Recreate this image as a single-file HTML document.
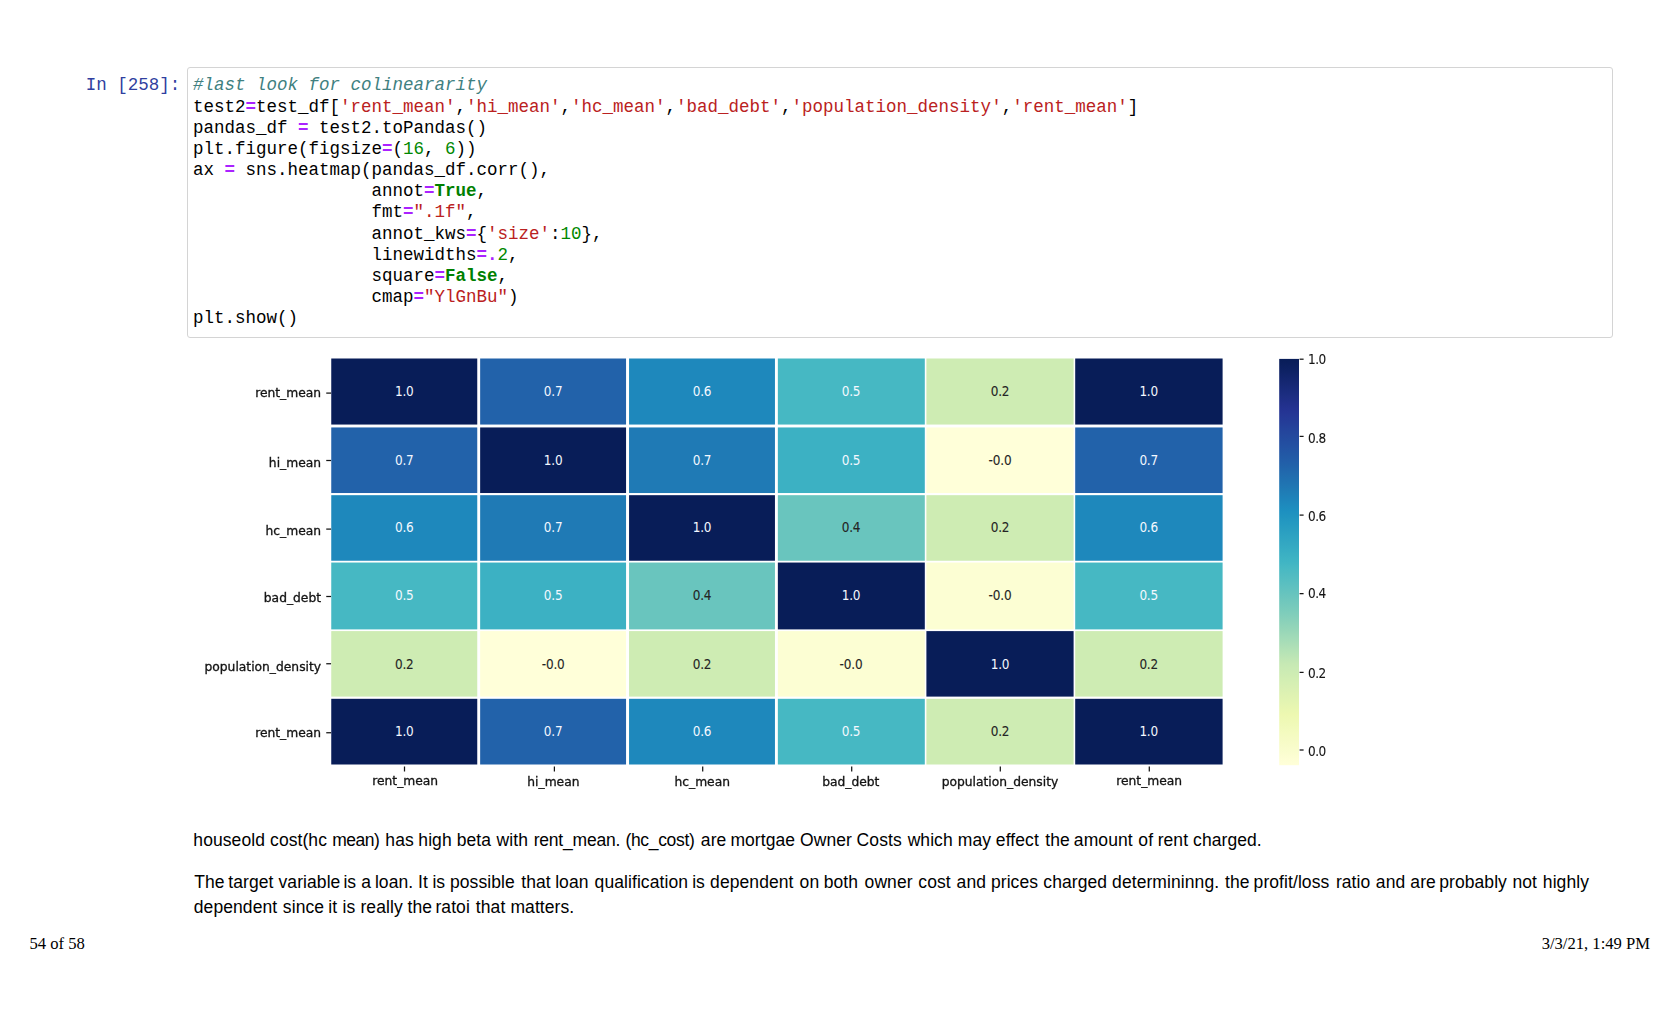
<!DOCTYPE html>
<html lang="en"><head><meta charset="utf-8"><title>notebook</title>
<style>
html,body{margin:0;padding:0;background:#fff;}
body{width:1680px;height:1020px;position:relative;overflow:hidden;font-family:"Liberation Sans",Arial,sans-serif;color:#000;}
.prompt{position:absolute;left:60px;top:75.35px;width:120.25px;text-align:right;font-family:"Liberation Mono",monospace;font-size:17.5px;line-height:21.18px;color:#303F9F;white-space:pre;}
.inbox{position:absolute;left:186.6px;top:67.1px;width:1426.5px;height:271px;border:1.25px solid #d4d4d4;border-radius:3px;box-sizing:border-box;background:#fff;}
pre.code{position:absolute;left:192.9px;top:75.35px;margin:0;font-family:"Liberation Mono",monospace;font-size:17.5px;line-height:21.18px;color:#000;white-space:pre;}
.c{color:#408080;font-style:italic;}
.o{color:#AA22FF;font-weight:bold;}
.s{color:#BA2121;}
.n{color:#008800;}
.k{color:#008000;font-weight:bold;}
.md{position:absolute;left:0;width:1680px;height:25px;white-space:pre;letter-spacing:0.08px;font-size:17.5px;line-height:25px;color:#000;margin:0;}
.w{position:absolute;top:0;left:0;}
.foot{position:absolute;top:934px;font-family:"Liberation Serif",serif;font-size:16.6px;line-height:20px;color:#000;white-space:pre;}
</style></head><body>
<div class="prompt">In [258]:</div>
<div class="inbox"></div>
<pre class="code"><span class="c">#last look for colineararity</span>
test2<span class="o">=</span>test_df[<span class="s">'rent_mean'</span>,<span class="s">'hi_mean'</span>,<span class="s">'hc_mean'</span>,<span class="s">'bad_debt'</span>,<span class="s">'population_density'</span>,<span class="s">'rent_mean'</span>]
pandas_df <span class="o">=</span> test2.toPandas()
plt.figure(figsize<span class="o">=</span>(<span class="n">16</span>, <span class="n">6</span>))
ax <span class="o">=</span> sns.heatmap(pandas_df.corr(),
                 annot<span class="o">=</span><span class="k">True</span>,
                 fmt<span class="o">=</span><span class="s">".1f"</span>,
                 annot_kws<span class="o">=</span>{<span class="s">'size'</span>:<span class="n">10</span>},
                 linewidths<span class="o">=.</span><span class="n">2</span>,
                 square<span class="o">=</span><span class="k">False</span>,
                 cmap<span class="o">=</span><span class="s">"YlGnBu"</span>)
plt.show()</pre>
<svg width="1180" height="460" viewBox="180 345 1180 460" style="position:absolute;left:180px;top:345px;font-family:'DejaVu Sans',sans-serif;font-size:12.3px;filter:blur(0.4px)">
<rect x="329.85" y="357.30" width="893.10" height="408.40" fill="#fff"/>
<rect x="331.25" y="358.50" width="146.00" height="66.05" fill="#081d58"/>
<rect x="480.15" y="358.50" width="145.90" height="66.05" fill="#2262aa"/>
<rect x="629.05" y="358.50" width="145.90" height="66.05" fill="#1e88bc"/>
<rect x="777.85" y="358.50" width="146.95" height="66.05" fill="#46b8c3"/>
<rect x="926.40" y="358.50" width="147.20" height="66.05" fill="#ceecb3"/>
<rect x="1075.20" y="358.50" width="147.40" height="66.05" fill="#081d58"/>
<rect x="331.25" y="427.45" width="146.00" height="65.58" fill="#2262aa"/>
<rect x="480.15" y="427.45" width="145.90" height="65.58" fill="#081d58"/>
<rect x="629.05" y="427.45" width="145.90" height="65.58" fill="#1f7ab5"/>
<rect x="777.85" y="427.45" width="146.95" height="65.58" fill="#3cb1c3"/>
<rect x="926.40" y="427.45" width="147.20" height="65.58" fill="#ffffd9"/>
<rect x="1075.20" y="427.45" width="147.40" height="65.58" fill="#2262aa"/>
<rect x="331.25" y="495.18" width="146.00" height="65.57" fill="#1e88bc"/>
<rect x="480.15" y="495.18" width="145.90" height="65.57" fill="#1f7ab5"/>
<rect x="629.05" y="495.18" width="145.90" height="65.57" fill="#081d58"/>
<rect x="777.85" y="495.18" width="146.95" height="65.57" fill="#69c5be"/>
<rect x="926.40" y="495.18" width="147.20" height="65.57" fill="#ceecb3"/>
<rect x="1075.20" y="495.18" width="147.40" height="65.57" fill="#1e88bc"/>
<rect x="331.25" y="562.55" width="146.00" height="66.85" fill="#46b8c3"/>
<rect x="480.15" y="562.55" width="145.90" height="66.85" fill="#3cb1c3"/>
<rect x="629.05" y="562.55" width="145.90" height="66.85" fill="#69c5be"/>
<rect x="777.85" y="562.55" width="146.95" height="66.85" fill="#081d58"/>
<rect x="926.40" y="562.55" width="147.20" height="66.85" fill="#fcfed3"/>
<rect x="1075.20" y="562.55" width="147.40" height="66.85" fill="#46b8c3"/>
<rect x="331.25" y="631.10" width="146.00" height="65.50" fill="#ceecb3"/>
<rect x="480.15" y="631.10" width="145.90" height="65.50" fill="#ffffd9"/>
<rect x="629.05" y="631.10" width="145.90" height="65.50" fill="#ceecb3"/>
<rect x="777.85" y="631.10" width="146.95" height="65.50" fill="#fcfed3"/>
<rect x="926.40" y="631.10" width="147.20" height="65.50" fill="#081d58"/>
<rect x="1075.20" y="631.10" width="147.40" height="65.50" fill="#ceecb3"/>
<rect x="331.25" y="698.80" width="146.00" height="65.70" fill="#081d58"/>
<rect x="480.15" y="698.80" width="145.90" height="65.70" fill="#2262aa"/>
<rect x="629.05" y="698.80" width="145.90" height="65.70" fill="#1e88bc"/>
<rect x="777.85" y="698.80" width="146.95" height="65.70" fill="#46b8c3"/>
<rect x="926.40" y="698.80" width="147.20" height="65.70" fill="#ceecb3"/>
<rect x="1075.20" y="698.80" width="147.40" height="65.70" fill="#081d58"/>
<text transform="translate(404.27 395.85) scale(1 1.1)" text-anchor="middle" fill="#f4f8ff" letter-spacing="-0.2" font-size="12.1">1.0</text>
<text transform="translate(553.12 395.85) scale(1 1.1)" text-anchor="middle" fill="#f4f8ff" letter-spacing="-0.2" font-size="12.1">0.7</text>
<text transform="translate(701.97 395.85) scale(1 1.1)" text-anchor="middle" fill="#f4f8ff" letter-spacing="-0.2" font-size="12.1">0.6</text>
<text transform="translate(851.00 395.85) scale(1 1.1)" text-anchor="middle" fill="#f4f8ff" letter-spacing="-0.2" font-size="12.1">0.5</text>
<text transform="translate(1000.00 395.85) scale(1 1.1)" text-anchor="middle" fill="#242424" stroke="#242424" stroke-width="0.1" letter-spacing="-0.2" font-size="12.1">0.2</text>
<text transform="translate(1148.68 395.85) scale(1 1.1)" text-anchor="middle" fill="#f4f8ff" letter-spacing="-0.2" font-size="12.1">1.0</text>
<text transform="translate(404.27 464.75) scale(1 1.1)" text-anchor="middle" fill="#f4f8ff" letter-spacing="-0.2" font-size="12.1">0.7</text>
<text transform="translate(553.12 464.75) scale(1 1.1)" text-anchor="middle" fill="#f4f8ff" letter-spacing="-0.2" font-size="12.1">1.0</text>
<text transform="translate(701.97 464.75) scale(1 1.1)" text-anchor="middle" fill="#f4f8ff" letter-spacing="-0.2" font-size="12.1">0.7</text>
<text transform="translate(851.00 464.75) scale(1 1.1)" text-anchor="middle" fill="#f4f8ff" letter-spacing="-0.2" font-size="12.1">0.5</text>
<text transform="translate(1000.00 464.75) scale(1 1.1)" text-anchor="middle" fill="#242424" stroke="#242424" stroke-width="0.1" letter-spacing="-0.2" font-size="12.1">-0.0</text>
<text transform="translate(1148.68 464.75) scale(1 1.1)" text-anchor="middle" fill="#f4f8ff" letter-spacing="-0.2" font-size="12.1">0.7</text>
<text transform="translate(404.27 531.98) scale(1 1.1)" text-anchor="middle" fill="#f4f8ff" letter-spacing="-0.2" font-size="12.1">0.6</text>
<text transform="translate(553.12 531.98) scale(1 1.1)" text-anchor="middle" fill="#f4f8ff" letter-spacing="-0.2" font-size="12.1">0.7</text>
<text transform="translate(701.97 531.98) scale(1 1.1)" text-anchor="middle" fill="#f4f8ff" letter-spacing="-0.2" font-size="12.1">1.0</text>
<text transform="translate(851.00 531.98) scale(1 1.1)" text-anchor="middle" fill="#242424" stroke="#242424" stroke-width="0.1" letter-spacing="-0.2" font-size="12.1">0.4</text>
<text transform="translate(1000.00 531.98) scale(1 1.1)" text-anchor="middle" fill="#242424" stroke="#242424" stroke-width="0.1" letter-spacing="-0.2" font-size="12.1">0.2</text>
<text transform="translate(1148.68 531.98) scale(1 1.1)" text-anchor="middle" fill="#f4f8ff" letter-spacing="-0.2" font-size="12.1">0.6</text>
<text transform="translate(404.27 599.95) scale(1 1.1)" text-anchor="middle" fill="#f4f8ff" letter-spacing="-0.2" font-size="12.1">0.5</text>
<text transform="translate(553.12 599.95) scale(1 1.1)" text-anchor="middle" fill="#f4f8ff" letter-spacing="-0.2" font-size="12.1">0.5</text>
<text transform="translate(701.97 599.95) scale(1 1.1)" text-anchor="middle" fill="#242424" stroke="#242424" stroke-width="0.1" letter-spacing="-0.2" font-size="12.1">0.4</text>
<text transform="translate(851.00 599.95) scale(1 1.1)" text-anchor="middle" fill="#f4f8ff" letter-spacing="-0.2" font-size="12.1">1.0</text>
<text transform="translate(1000.00 599.95) scale(1 1.1)" text-anchor="middle" fill="#242424" stroke="#242424" stroke-width="0.1" letter-spacing="-0.2" font-size="12.1">-0.0</text>
<text transform="translate(1148.68 599.95) scale(1 1.1)" text-anchor="middle" fill="#f4f8ff" letter-spacing="-0.2" font-size="12.1">0.5</text>
<text transform="translate(404.27 668.62) scale(1 1.1)" text-anchor="middle" fill="#242424" stroke="#242424" stroke-width="0.1" letter-spacing="-0.2" font-size="12.1">0.2</text>
<text transform="translate(553.12 668.62) scale(1 1.1)" text-anchor="middle" fill="#242424" stroke="#242424" stroke-width="0.1" letter-spacing="-0.2" font-size="12.1">-0.0</text>
<text transform="translate(701.97 668.62) scale(1 1.1)" text-anchor="middle" fill="#242424" stroke="#242424" stroke-width="0.1" letter-spacing="-0.2" font-size="12.1">0.2</text>
<text transform="translate(851.00 668.62) scale(1 1.1)" text-anchor="middle" fill="#242424" stroke="#242424" stroke-width="0.1" letter-spacing="-0.2" font-size="12.1">-0.0</text>
<text transform="translate(1000.00 668.62) scale(1 1.1)" text-anchor="middle" fill="#f4f8ff" letter-spacing="-0.2" font-size="12.1">1.0</text>
<text transform="translate(1148.68 668.62) scale(1 1.1)" text-anchor="middle" fill="#242424" stroke="#242424" stroke-width="0.1" letter-spacing="-0.2" font-size="12.1">0.2</text>
<text transform="translate(404.27 736.25) scale(1 1.1)" text-anchor="middle" fill="#f4f8ff" letter-spacing="-0.2" font-size="12.1">1.0</text>
<text transform="translate(553.12 736.25) scale(1 1.1)" text-anchor="middle" fill="#f4f8ff" letter-spacing="-0.2" font-size="12.1">0.7</text>
<text transform="translate(701.97 736.25) scale(1 1.1)" text-anchor="middle" fill="#f4f8ff" letter-spacing="-0.2" font-size="12.1">0.6</text>
<text transform="translate(851.00 736.25) scale(1 1.1)" text-anchor="middle" fill="#f4f8ff" letter-spacing="-0.2" font-size="12.1">0.5</text>
<text transform="translate(1000.00 736.25) scale(1 1.1)" text-anchor="middle" fill="#242424" stroke="#242424" stroke-width="0.1" letter-spacing="-0.2" font-size="12.1">0.2</text>
<text transform="translate(1148.68 736.25) scale(1 1.1)" text-anchor="middle" fill="#f4f8ff" letter-spacing="-0.2" font-size="12.1">1.0</text>
<line x1="326.25" y1="393.10" x2="331.05" y2="393.10" stroke="#141414" stroke-width="1.25"/>
<text transform="translate(321.05 397.00) scale(1 1.04)" text-anchor="end" fill="#141414" stroke="#141414" stroke-width="0.32">rent_mean</text>
<line x1="326.25" y1="460.50" x2="331.05" y2="460.50" stroke="#141414" stroke-width="1.25"/>
<text transform="translate(321.05 466.90) scale(1 1.04)" text-anchor="end" fill="#141414" stroke="#141414" stroke-width="0.32">hi_mean</text>
<line x1="326.25" y1="529.10" x2="331.05" y2="529.10" stroke="#141414" stroke-width="1.25"/>
<text transform="translate(321.05 534.70) scale(1 1.04)" text-anchor="end" fill="#141414" stroke="#141414" stroke-width="0.32">hc_mean</text>
<line x1="326.25" y1="596.50" x2="331.05" y2="596.50" stroke="#141414" stroke-width="1.25"/>
<text transform="translate(321.05 601.60) scale(1 1.04)" text-anchor="end" fill="#141414" stroke="#141414" stroke-width="0.32">bad_debt</text>
<line x1="326.25" y1="663.75" x2="331.05" y2="663.75" stroke="#141414" stroke-width="1.25"/>
<text transform="translate(321.05 671.00) scale(1 1.04)" text-anchor="end" fill="#141414" stroke="#141414" stroke-width="0.32">population_density</text>
<line x1="326.25" y1="732.75" x2="331.05" y2="732.75" stroke="#141414" stroke-width="1.25"/>
<text transform="translate(321.05 736.90) scale(1 1.04)" text-anchor="end" fill="#141414" stroke="#141414" stroke-width="0.32">rent_mean</text>
<line x1="404.50" y1="766.50" x2="404.50" y2="771.50" stroke="#141414" stroke-width="1.25"/>
<text transform="translate(405.20 784.60) scale(1 1.04)" text-anchor="middle" fill="#141414" stroke="#141414" stroke-width="0.32">rent_mean</text>
<line x1="554.40" y1="766.50" x2="554.40" y2="771.50" stroke="#141414" stroke-width="1.25"/>
<text transform="translate(553.40 785.70) scale(1 1.04)" text-anchor="middle" fill="#141414" stroke="#141414" stroke-width="0.32">hi_mean</text>
<line x1="702.70" y1="766.50" x2="702.70" y2="771.50" stroke="#141414" stroke-width="1.25"/>
<text transform="translate(702.20 785.70) scale(1 1.04)" text-anchor="middle" fill="#141414" stroke="#141414" stroke-width="0.32">hc_mean</text>
<line x1="851.70" y1="766.50" x2="851.70" y2="771.50" stroke="#141414" stroke-width="1.25"/>
<text transform="translate(850.80 785.70) scale(1 1.04)" text-anchor="middle" fill="#141414" stroke="#141414" stroke-width="0.32">bad_debt</text>
<line x1="1000.30" y1="766.50" x2="1000.30" y2="771.50" stroke="#141414" stroke-width="1.25"/>
<text transform="translate(1000.00 785.70) scale(1 1.04)" text-anchor="middle" fill="#141414" stroke="#141414" stroke-width="0.32">population_density</text>
<line x1="1149.30" y1="766.50" x2="1149.30" y2="771.50" stroke="#141414" stroke-width="1.25"/>
<text transform="translate(1149.20 784.60) scale(1 1.04)" text-anchor="middle" fill="#141414" stroke="#141414" stroke-width="0.32">rent_mean</text>
<defs><linearGradient id="cbg" x1="0" y1="0" x2="0" y2="1"><stop offset="0.0000" stop-color="#081d58"/><stop offset="0.0156" stop-color="#0b1f5e"/><stop offset="0.0312" stop-color="#0e2265"/><stop offset="0.0469" stop-color="#12256d"/><stop offset="0.0625" stop-color="#162874"/><stop offset="0.0781" stop-color="#192b7c"/><stop offset="0.0938" stop-color="#1d2e83"/><stop offset="0.1094" stop-color="#21308b"/><stop offset="0.1250" stop-color="#243392"/><stop offset="0.1406" stop-color="#253896"/><stop offset="0.1562" stop-color="#243d98"/><stop offset="0.1719" stop-color="#24439b"/><stop offset="0.1875" stop-color="#24489d"/><stop offset="0.2031" stop-color="#234da0"/><stop offset="0.2188" stop-color="#2352a3"/><stop offset="0.2344" stop-color="#2258a5"/><stop offset="0.2500" stop-color="#225da8"/><stop offset="0.2656" stop-color="#2163aa"/><stop offset="0.2812" stop-color="#216aad"/><stop offset="0.2969" stop-color="#2070b0"/><stop offset="0.3125" stop-color="#2076b3"/><stop offset="0.3281" stop-color="#1f7db6"/><stop offset="0.3438" stop-color="#1e83ba"/><stop offset="0.3594" stop-color="#1e8abd"/><stop offset="0.3750" stop-color="#1d90c0"/><stop offset="0.3906" stop-color="#2195c0"/><stop offset="0.4062" stop-color="#259ac1"/><stop offset="0.4219" stop-color="#2a9ec1"/><stop offset="0.4375" stop-color="#2ea3c2"/><stop offset="0.4531" stop-color="#33a7c2"/><stop offset="0.4688" stop-color="#37acc3"/><stop offset="0.4844" stop-color="#3cb1c3"/><stop offset="0.5000" stop-color="#40b5c4"/><stop offset="0.5156" stop-color="#48b9c3"/><stop offset="0.5312" stop-color="#50bbc2"/><stop offset="0.5469" stop-color="#57bec1"/><stop offset="0.5625" stop-color="#5fc1c0"/><stop offset="0.5781" stop-color="#67c4be"/><stop offset="0.5938" stop-color="#6fc7bd"/><stop offset="0.6094" stop-color="#76cabc"/><stop offset="0.6250" stop-color="#7ecdbb"/><stop offset="0.6406" stop-color="#87d0ba"/><stop offset="0.6562" stop-color="#90d4b9"/><stop offset="0.6719" stop-color="#99d7b8"/><stop offset="0.6875" stop-color="#a2dbb8"/><stop offset="0.7031" stop-color="#abdeb7"/><stop offset="0.7188" stop-color="#b4e2b6"/><stop offset="0.7344" stop-color="#bde5b5"/><stop offset="0.7500" stop-color="#c6e9b4"/><stop offset="0.7656" stop-color="#cbebb4"/><stop offset="0.7812" stop-color="#d0edb3"/><stop offset="0.7969" stop-color="#d5efb3"/><stop offset="0.8125" stop-color="#daf0b3"/><stop offset="0.8281" stop-color="#dff2b2"/><stop offset="0.8438" stop-color="#e3f4b2"/><stop offset="0.8594" stop-color="#e8f6b1"/><stop offset="0.8750" stop-color="#edf8b1"/><stop offset="0.8906" stop-color="#eff9b6"/><stop offset="0.9062" stop-color="#f1fabb"/><stop offset="0.9219" stop-color="#f4fbc0"/><stop offset="0.9375" stop-color="#f6fbc5"/><stop offset="0.9531" stop-color="#f8fcca"/><stop offset="0.9688" stop-color="#fafdcf"/><stop offset="0.9844" stop-color="#fdfed4"/><stop offset="1.0000" stop-color="#ffffd9"/></linearGradient></defs>
<rect x="1279.2" y="358.9" width="19.80" height="406.30" fill="url(#cbg)"/>
<line x1="1299.60" y1="750.00" x2="1303.60" y2="750.00" stroke="#141414" stroke-width="1.25"/>
<text transform="translate(1308.00 755.80) scale(1 1.1)" text-anchor="start" fill="#141414" stroke="#141414" stroke-width="0.1" letter-spacing="-0.5" font-size="12.1">0.0</text>
<line x1="1299.60" y1="672.40" x2="1303.60" y2="672.40" stroke="#141414" stroke-width="1.25"/>
<text transform="translate(1308.00 677.70) scale(1 1.1)" text-anchor="start" fill="#141414" stroke="#141414" stroke-width="0.1" letter-spacing="-0.5" font-size="12.1">0.2</text>
<line x1="1299.60" y1="593.65" x2="1303.60" y2="593.65" stroke="#141414" stroke-width="1.25"/>
<text transform="translate(1308.00 598.25) scale(1 1.1)" text-anchor="start" fill="#141414" stroke="#141414" stroke-width="0.1" letter-spacing="-0.5" font-size="12.1">0.4</text>
<line x1="1299.60" y1="515.10" x2="1303.60" y2="515.10" stroke="#141414" stroke-width="1.25"/>
<text transform="translate(1308.00 521.20) scale(1 1.1)" text-anchor="start" fill="#141414" stroke="#141414" stroke-width="0.1" letter-spacing="-0.5" font-size="12.1">0.6</text>
<line x1="1299.60" y1="436.40" x2="1303.60" y2="436.40" stroke="#141414" stroke-width="1.25"/>
<text transform="translate(1308.00 442.50) scale(1 1.1)" text-anchor="start" fill="#141414" stroke="#141414" stroke-width="0.1" letter-spacing="-0.5" font-size="12.1">0.8</text>
<line x1="1299.60" y1="359.20" x2="1303.60" y2="359.20" stroke="#141414" stroke-width="1.25"/>
<text transform="translate(1308.00 363.50) scale(1 1.1)" text-anchor="start" fill="#141414" stroke="#141414" stroke-width="0.1" letter-spacing="-0.5" font-size="12.1">1.0</text>
</svg>
<p class="md" style="top:827.5px"><span class="w" style="left:193.34px">houseold </span><span class="w" style="left:270.06px">cost(hc </span><span class="w" style="left:332.14px;letter-spacing:-0.5px">mean) </span><span class="w" style="left:385.34px">has </span><span class="w" style="left:418.34px">high </span><span class="w" style="left:456.68px">beta </span><span class="w" style="left:496.58px">with </span><span class="w" style="left:533.64px;letter-spacing:-0.2px">rent_mean. </span><span class="w" style="left:625.47px;letter-spacing:-0.33px">(hc_cost) </span><span class="w" style="left:700.82px">are </span><span class="w" style="left:730.39px">mortgae </span><span class="w" style="left:799.98px">Owner </span><span class="w" style="left:856.62px">Costs </span><span class="w" style="left:907.63px">which </span><span class="w" style="left:957.85px">may </span><span class="w" style="left:995.87px">effect </span><span class="w" style="left:1045.24px">the </span><span class="w" style="left:1073.87px">amount </span><span class="w" style="left:1138.37px">of </span><span class="w" style="left:1157.64px">rent </span><span class="w" style="left:1193.07px">charged.</span></p>
<p class="md" style="top:869.5px"><span class="w" style="left:194.16px">The </span><span class="w" style="left:228.29px">target </span><span class="w" style="left:278.50px">variable </span><span class="w" style="left:343.39px">is </span><span class="w" style="left:361.31px">a </span><span class="w" style="left:374.88px">loan. </span><span class="w" style="left:417.94px">It </span><span class="w" style="left:432.39px">is </span><span class="w" style="left:449.93px">possible </span><span class="w" style="left:521.29px">that </span><span class="w" style="left:555.13px">loan </span><span class="w" style="left:594.57px">qualification </span><span class="w" style="left:692.14px">is </span><span class="w" style="left:710.07px">dependent </span><span class="w" style="left:799.57px">on </span><span class="w" style="left:823.68px">both </span><span class="w" style="left:864.57px">owner </span><span class="w" style="left:918.32px">cost </span><span class="w" style="left:956.57px">and </span><span class="w" style="left:990.93px">prices </span><span class="w" style="left:1043.32px">charged </span><span class="w" style="left:1112.07px">determininng. </span><span class="w" style="left:1225.04px">the </span><span class="w" style="left:1253.58px">profit/loss </span><span class="w" style="left:1335.89px">ratio </span><span class="w" style="left:1375.82px">and </span><span class="w" style="left:1410.32px">are </span><span class="w" style="left:1439.18px">probably </span><span class="w" style="left:1512.39px">not </span><span class="w" style="left:1542.84px">highly</span></p>
<p class="md" style="top:894.5px"><span class="w" style="left:193.81px">dependent </span><span class="w" style="left:282.83px">since </span><span class="w" style="left:328.34px">it </span><span class="w" style="left:342.44px">is </span><span class="w" style="left:360.44px">really </span><span class="w" style="left:407.54px">the </span><span class="w" style="left:435.44px">ratoi </span><span class="w" style="left:475.84px">that </span><span class="w" style="left:510.44px">matters.</span></p>
<div class="foot" style="left:29.5px">54 of 58</div>
<div class="foot" style="right:30px">3/3/21, 1:49 PM</div>
</body></html>
